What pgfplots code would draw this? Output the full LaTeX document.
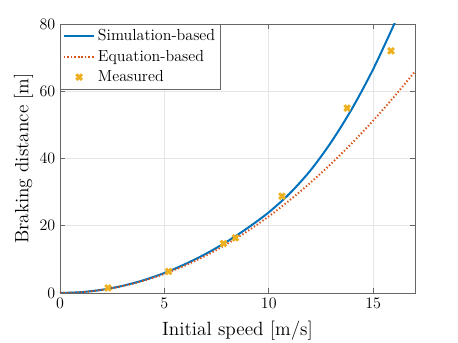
\documentclass[border=0pt]{standalone}
\usepackage{pgfplots}
\pgfplotsset{compat=1.18}
\definecolor{mblue}{rgb}{0,0.447,0.741}
\definecolor{morange}{rgb}{0.85,0.325,0.098}
\definecolor{myellow}{rgb}{0.929,0.694,0.125}

% simulated braking distance
\pgfplotstableread{
v d
0 0
1 0.24
2 0.95
3 2.13
4 3.80
5 5.95
6 8.60
7 11.70
8 15.30
9 19.40
10 24.00
11 29.60
12 36.50
13 45.00
14 55.00
15 66.60
16 79.90
16.3 84.20
}\simdata

% equation-based braking distance
\pgfplotstableread{
v d
0 0
1 0.228
2 0.912
3 2.052
4 3.648
5 5.700
6 8.208
7 11.172
8 14.592
9 18.468
10 22.800
11 27.588
12 32.832
13 38.532
14 44.688
15 51.300
16 58.368
17 65.892
}\eqdata

% measurements
\pgfplotstableread{
v d
2.3 1.5
5.2 6.4
7.83 14.7
8.4 16.4
10.63 28.8
13.75 55.0
15.85 72.0
}\measdata

\begin{document}
\begin{tikzpicture}
\begin{axis}[
  scale only axis, width=266.25pt, height=201.75pt,
  xmin=0, xmax=17, ymin=0, ymax=80,
  xtick={0,5,10,15}, ytick={0,20,40,60,80},
  tick align=inside, major tick length=3.5pt,
  axis line style={black!60}, tick style={black!60, line width=0.5pt},
  grid=major, grid style={black!10, line width=0.5pt},
  tick label style={font=\fontsize{11.5}{13}\selectfont},
  label style={font=\fontsize{14.4}{17}\selectfont},
  xlabel={Initial speed [m/s]}, ylabel={Braking distance [m]},
  xlabel style={yshift=-3pt}, ylabel style={yshift=-2pt},
  legend style={at={(0,1)}, anchor=north west, draw=black!60,
    font=\fontsize{12}{14}\selectfont, inner sep=2pt, row sep=1.5pt},
  legend cell align=left,
  legend image code/.code={\draw[mark repeat=2,mark phase=2,#1]
    plot coordinates {(0cm,0cm) (0.4cm,0cm) (0.8cm,0cm)};},
]
  \addplot[mblue, line width=1.5pt, smooth] table[x=v,y=d] {\simdata};
  \addlegendentry{Simulation-based}
  \addplot[morange, line width=1.5pt, dash pattern=on 1pt off 1.6pt, smooth] table[x=v,y=d] {\eqdata};
  \addlegendentry{Equation-based}
  \addplot[myellow, only marks, mark=x, mark size=3pt, line width=2.2pt] table[x=v,y=d] {\measdata};
  \addlegendentry{Measured}
  \coordinate (sw) at (rel axis cs:0,0);
  \coordinate (ne) at (rel axis cs:1,1);
\end{axis}
\pgfresetboundingbox
\useasboundingbox ([shift={(-45pt,-37.5pt)}]sw) rectangle ([shift={(32.25pt,18pt)}]ne);
\end{tikzpicture}
\end{document}
